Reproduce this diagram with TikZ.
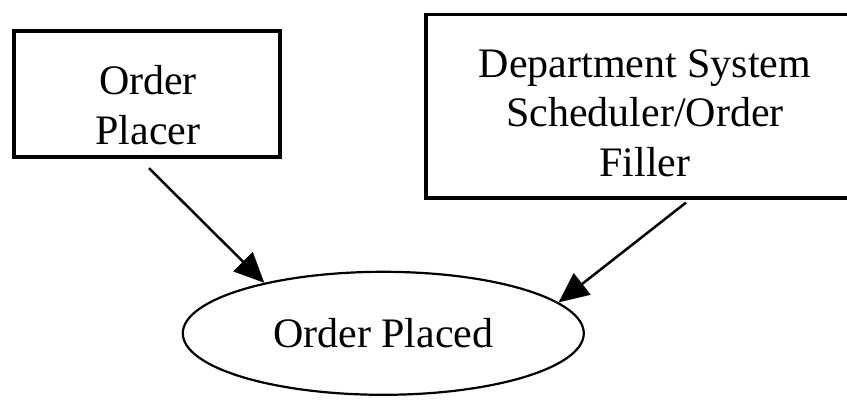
\documentclass[tikz,border=0pt]{standalone}
\usepackage{fontspec}
\setmainfont{Liberation Serif}
\usetikzlibrary{arrows.meta,shapes.geometric}
\begin{document}
\begin{tikzpicture}[x=1pt,y=-1pt,
  actorbox/.style={draw=black,rectangle,inner sep=0pt},
  label text/.style={font=\fontsize{42}{49.5}\selectfont,align=center,inner sep=0pt},
  eventnode/.style={draw=black,ellipse,line width=2.2pt,inner sep=0pt,
    minimum width=401pt,minimum height=123pt,font=\fontsize{42}{49.5}\selectfont},
  edge/.style={line width=2.5pt,-{Triangle[length=30pt,width=27pt]}}]
\useasboundingbox (0,0) rectangle (847,402);

% actor boxes
\node[actorbox,line width=3.8pt,minimum width=266pt,minimum height=126pt] (placer) at (146.7,94.3) {};
\node[label text] (placertext) at (148,105.3) {Order\\Placer};

\node[actorbox,line width=3.3pt,minimum width=438pt,minimum height=183.3pt] (filler) at (645,106.3) {};
\node[label text] (fillertext) at (645,112.8) {Department System\\Scheduler/Order\\Filler};

% event
\node[eventnode] (placed) at (383.3,333.3) {Order Placed};

% connectors
\draw[edge] ([xshift=2.3pt,yshift=-9pt]placer.south) -- (placed.157);
\draw[edge] ([xshift=41pt,yshift=-3pt]filler.south) -- (placed.10);
\end{tikzpicture}
\end{document}
